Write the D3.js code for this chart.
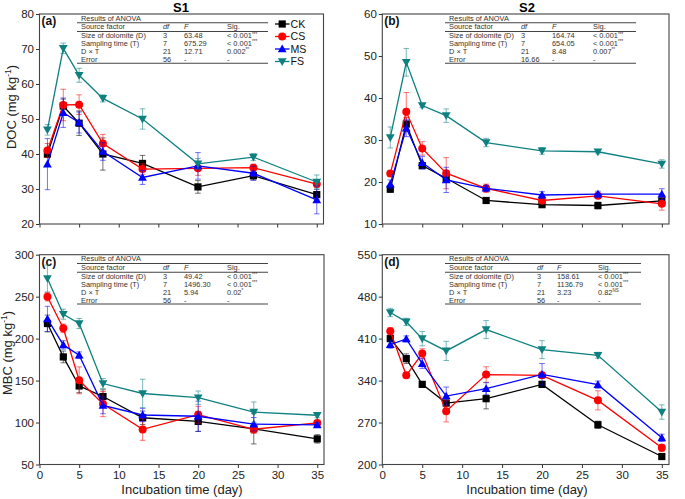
<!DOCTYPE html>
<html><head><meta charset="utf-8">
<script src="https://cdn.jsdelivr.net/npm/d3@7"></script>
<style>
html,body{margin:0;padding:0;background:#fff;}
svg{display:block;font-family:"Liberation Sans",Arial,sans-serif;}
</style></head>
<body><svg id="chart" width="685" height="499"></svg>
<script>
const days = [1, 3, 5, 8, 13, 20, 27, 35];
const seriesNames = ["CK", "CS", "MS", "FS"];
const seriesColors = ["#000000", "#ff0000", "#0000ff", "#0e8080"];
const xTicks = [0, 5, 10, 15, 20, 25, 30, 35];

// Panel (a) DOC S1
const docS1 = {
  CK: [40.0, 53.7, 48.8, 40.0, 37.3, 30.6, 33.8, 28.4],
  CS: [41.0, 54.0, 54.1, 43.0, 35.7, 35.9, 36.1, 31.4],
  MS: [37.1, 51.8, 49.0, 40.7, 33.3, 36.6, 34.5, 26.9],
  FS: [46.9, 70.2, 62.5, 55.9, 50.0, 37.2, 39.1, 32.0]
};
const docS1Err = {
  CK: [1.0, 2.0, 3.5, 4.6, 2.3, 1.8, 1.2, 1.5],
  CS: [2.0, 4.5, 2.8, 2.6, 1.5, 2.0, 1.0, 1.0],
  MS: [7.3, 4.2, 3.0, 2.5, 2.0, 3.8, 2.0, 4.0],
  FS: [1.5, 1.5, 2.0, 1.0, 2.9, 1.5, 1.0, 2.0]
};
// Panel (b) DOC S2
const docS2 = {
  CK: [18.3, 33.8, 23.9, 20.9, 15.6, 14.6, 14.4, 15.5],
  CS: [22.0, 36.7, 28.0, 22.1, 18.5, 15.6, 16.7, 14.8],
  MS: [19.5, 32.8, 24.6, 20.5, 18.5, 16.9, 17.1, 17.1],
  FS: [30.6, 48.5, 38.2, 35.8, 29.4, 27.4, 27.2, 24.3]
};
const docS2Err = {
  CK: [0.8, 1.5, 0.7, 1.0, 0.5, 0.5, 0.8, 0.5],
  CS: [0.6, 4.6, 1.6, 3.7, 1.0, 0.8, 0.5, 1.5],
  MS: [1.0, 2.0, 1.5, 3.0, 0.7, 0.8, 0.7, 1.3],
  FS: [2.5, 3.3, 0.5, 1.6, 1.0, 0.8, 0.5, 1.0]
};
// Panel (c) MBC S1
const mbcS1 = {
  CK: [218.0, 178.2, 143.6, 131.0, 105.7, 101.4, 92.5, 80.5],
  CS: [249.8, 212.4, 150.3, 122.0, 91.8, 109.3, 92.0, 99.6],
  MS: [223.5, 192.5, 180.2, 120.5, 109.0, 107.5, 98.0, 97.2],
  FS: [271.7, 229.1, 218.0, 146.5, 134.6, 129.6, 112.5, 108.7]
};
const mbcS1Err = {
  CK: [10, 7, 8, 8, 8, 12, 18, 5],
  CS: [5, 5, 16, 15, 13, 10, 5, 3],
  MS: [15, 5, 4, 10, 8, 18, 8, 3],
  FS: [16, 6, 6, 6, 17, 8, 12, 3]
};
// Panel (d) MBC S2
const mbcS2 = {
  CK: [410.0, 376.6, 333.7, 302.5, 309.8, 333.7, 266.3, 213.3],
  CS: [422.3, 348.8, 385.0, 289.0, 350.0, 348.8, 307.0, 227.8],
  MS: [400.0, 409.5, 368.3, 314.2, 326.5, 350.4, 333.2, 244.5],
  FS: [453.6, 438.0, 410.0, 389.5, 425.1, 391.7, 382.2, 287.5]
};
const mbcS2Err = {
  CK: [5, 8, 4, 5, 17, 5, 6, 4],
  CS: [6, 4, 8, 18, 13, 5, 16, 6],
  MS: [6, 5, 8, 15, 10, 18, 6, 6],
  FS: [7, 6, 12, 16, 15, 15, 5, 12]
};

const yTicksA = [20, 30, 40, 50, 60, 70, 80];
const yTicksB = [10, 20, 30, 40, 50, 60];
const yTicksC = [50, 100, 150, 200, 250, 300];
const yTicksD = [200, 270, 340, 410, 480, 550];

const anovaHeader = ["Source factor", "df", "F", "Sig."];
const anovaFactors = ["Size of dolomite (D)", "Sampling time (T)", "D \u00d7 T", "Error"];
const anovaDf = ["3", "7", "21", "56"];
const anovaDfB = ["3", "7", "21", "16.66"];
const anovaFa = ["63.48", "675.29", "12.71", "-"];
const anovaFb = ["164.74", "654.05", "8.48", "-"];
const anovaFc = ["49.42", "1496.30", "5.94", "-"];
const anovaFd = ["158.61", "1136.79", "3.23", "-"];
const sigA = [["< 0.001", "***"], ["< 0.001", "***"], ["0.002", "**"], ["-", ""]];
const sigB = [["< 0.001", "***"], ["< 0.001", "***"], ["0.007", "**"], ["-", ""]];
const sigC = [["< 0.001", "***"], ["< 0.001", "***"], ["0.02", "*"], ["-", ""]];
const sigD = [["< 0.001", "***"], ["< 0.001", "***"], ["0.82", "NS"], ["-", ""]];

const svg = d3.select("#chart");

const panels = [
  {id:"(a)", data:docS1, err:docS1Err, yDom:[20,80], yTicks:yTicksA, x0:39.5, x1:323.5, xMax:35.85, y0:14, y1:224,
   showXLabels:false, df:anovaDf, F:anovaFa, sig:sigA, tab:{x0:77, x1:268, cDf:163, cF:184, cSig:227}, legend:true},
  {id:"(b)", data:docS2, err:docS2Err, yDom:[10,60], yTicks:yTicksB, x0:382.3, x1:669, xMax:35.9, y0:14, y1:224,
   showXLabels:false, df:anovaDfB, F:anovaFb, sig:sigB, tab:{x0:445, x1:636, cDf:521, cF:552, cSig:593}, legend:false},
  {id:"(c)", data:mbcS1, err:mbcS1Err, yDom:[50,300], yTicks:yTicksC, x0:39.5, x1:324, xMax:35.85, y0:254.7, y1:464.5,
   showXLabels:true, df:anovaDf, F:anovaFc, sig:sigC, tab:{x0:77, x1:268, cDf:163, cF:184, cSig:227}, legend:false},
  {id:"(d)", data:mbcS2, err:mbcS2Err, yDom:[200,550], yTicks:yTicksD, x0:382.3, x1:669, xMax:35.9, y0:254.7, y1:464.5,
   showXLabels:true, df:anovaDf, F:anovaFd, sig:sigD, tab:{x0:445, x1:641, cDf:537, cF:557, cSig:598}, legend:false}
];

function marker(g, name, color, cx, cy) {
  if (name === "CK") {
    g.append("rect").attr("x", cx-3.6).attr("y", cy-3.6).attr("width", 7.2).attr("height", 7.2).attr("fill", color);
  } else if (name === "CS") {
    g.append("circle").attr("cx", cx).attr("cy", cy).attr("r", 4).attr("fill", color);
  } else if (name === "MS") {
    const s = 4.4;
    g.append("path").attr("d", `M${cx},${cy-s}L${cx+s},${cy+s*0.75}L${cx-s},${cy+s*0.75}Z`).attr("fill", color);
  } else {
    const s = 4.4;
    g.append("path").attr("d", `M${cx},${cy+s}L${cx+s},${cy-s*0.75}L${cx-s},${cy-s*0.75}Z`).attr("fill", color);
  }
}

panels.forEach(p => {
  const x = d3.scaleLinear().domain([0, p.xMax]).range([p.x0, p.x1]);
  const y = d3.scaleLinear().domain(p.yDom).range([p.y1, p.y0]);
  const g = svg.append("g");

  // axes
  const xa = g.append("g").attr("transform", `translate(0,${p.y1})`)
    .call(d3.axisBottom(x).tickValues(xTicks).tickSize(3.5).tickPadding(3).tickFormat(p.showXLabels ? d3.format("d") : () => ""));
  const ya = g.append("g").attr("transform", `translate(${p.x0},0)`)
    .call(d3.axisLeft(y).tickValues(p.yTicks).tickSize(3.5).tickPadding(2));
  [xa, ya].forEach(a => {
    a.select(".domain").remove();
    a.selectAll("line").attr("stroke", "#333").attr("stroke-width", 1);
    a.selectAll("text").attr("fill", "#222").style("font-size", "11.5px").style("font-family", "Liberation Sans, Arial, sans-serif");
  });
  // frame
  g.append("rect").attr("x", p.x0).attr("y", p.y0).attr("width", p.x1 - p.x0).attr("height", p.y1 - p.y0)
    .attr("fill", "none").attr("stroke", "#444").attr("stroke-width", 1.1);

  // panel id
  g.append("text").attr("x", p.x0 + 2).attr("y", p.y0 + 11).text(p.id)
    .style("font-size", "12px").style("font-weight", "bold").attr("fill", "#111");

  // ANOVA table
  const t = p.tab;
  const tg = g.append("g").style("font-size", "7.4px").attr("fill", "#333");
  const ty = p.y0;
  tg.append("text").attr("x", t.x0 + 4).attr("y", ty + 6.5).text("Results of ANOVA");
  const lineY = [ty + 8.8, ty + 17.5, ty + 49.3];
  lineY.forEach(ly => tg.append("line").attr("x1", t.x0).attr("x2", t.x1).attr("y1", ly).attr("y2", ly)
    .attr("stroke", "#444").attr("stroke-width", 1.1));
  const cols = [t.x0 + 4, t.cDf, t.cF, t.cSig];
  anovaHeader.forEach((h, i) => tg.append("text").attr("x", cols[i]).attr("y", ty + 15.3).text(h)
    .style("font-style", (i === 1 || i === 2) ? "italic" : "normal"));
  anovaFactors.forEach((f, r) => {
    const ry = ty + 24 + r * 7.95;
    tg.append("text").attr("x", cols[0]).attr("y", ry).text(f);
    tg.append("text").attr("x", cols[1]).attr("y", ry).text(p.df[r]);
    tg.append("text").attr("x", cols[2]).attr("y", ry).text(p.F[r]);
    const st = tg.append("text").attr("x", cols[3]).attr("y", ry).text(p.sig[r][0]);
    if (p.sig[r][1]) st.append("tspan").attr("dy", -2.5).style("font-size", "4.5px").text(p.sig[r][1]);
  });

  // series
  seriesNames.forEach((name, si) => {
    const color = seriesColors[si];
    const vals = p.data[name], errs = p.err[name];
    const pts = days.map((d, i) => ({d, v: vals[i], e: errs[i]}));
    const sg = g.append("g");
    // error bars
    pts.forEach(pt => {
      const cx = x(pt.d);
      sg.append("line").attr("x1", cx).attr("x2", cx).attr("y1", y(pt.v - pt.e)).attr("y2", y(pt.v + pt.e))
        .attr("stroke", color).attr("stroke-opacity", 0.55).attr("stroke-width", 1);
      [pt.v - pt.e, pt.v + pt.e].forEach(ev => sg.append("line").attr("x1", cx - 2.8).attr("x2", cx + 2.8)
        .attr("y1", y(ev)).attr("y2", y(ev)).attr("stroke", color).attr("stroke-opacity", 0.55).attr("stroke-width", 1));
    });
    sg.append("path").datum(pts)
      .attr("d", d3.line().x(q => x(q.d)).y(q => y(q.v)))
      .attr("fill", "none").attr("stroke", color).attr("stroke-width", 1.3);
    pts.forEach(pt => marker(sg, name, color, x(pt.d), y(pt.v)));
  });

  // legend
  if (p.legend) {
    const lg = g.append("g");
    seriesNames.forEach((name, i) => {
      const ly = 24 + i * 12.5;
      lg.append("line").attr("x1", 275).attr("x2", 289.5).attr("y1", ly).attr("y2", ly)
        .attr("stroke", seriesColors[i]).attr("stroke-width", 1.3);
      marker(lg, name, seriesColors[i], 282.2, ly);
      lg.append("text").attr("x", 290.5).attr("y", ly + 3.9).text(name)
        .style("font-size", "10.6px").attr("fill", "#111");
    });
  }
});

// titles
svg.append("text").attr("x", 181).attr("y", 12).attr("text-anchor", "middle").text("S1")
  .style("font-size", "13px").style("font-weight", "bold");
svg.append("text").attr("x", 527).attr("y", 12).attr("text-anchor", "middle").text("S2")
  .style("font-size", "13px").style("font-weight", "bold");

// x titles
[182, 527].forEach(cx => svg.append("text").attr("x", cx).attr("y", 494).attr("text-anchor", "middle")
  .text("Incubation time (day)").style("font-size", "13px").attr("fill", "#222"));

// y titles
function yTitle(txt, cx, cy) {
  const t = svg.append("text").attr("transform", `translate(${cx},${cy}) rotate(-90)`).attr("text-anchor", "middle")
    .style("font-size", "13px").attr("fill", "#222");
  t.append("tspan").text(txt + " (mg kg");
  t.append("tspan").attr("dy", -5).style("font-size", "8.5px").text("-1");
  t.append("tspan").attr("dy", 5).text(")");
}
yTitle("DOC", 16, 107);
yTitle("MBC", 12, 353);
</script></body></html>
